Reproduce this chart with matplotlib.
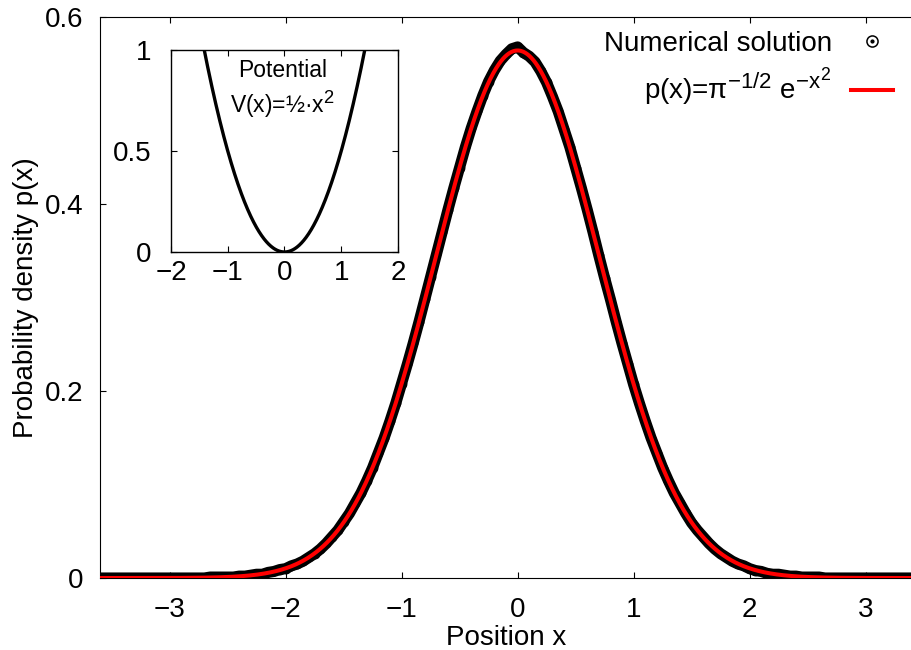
import numpy as np
import matplotlib
matplotlib.use("Agg")
import matplotlib.pyplot as plt
import matplotlib._mathtext as mathtext_internal
from matplotlib.lines import Line2D
from matplotlib.legend_handler import HandlerTuple

plt.rcParams['font.family'] = ['Liberation Sans', 'DejaVu Sans']
plt.rcParams['mathtext.fontset'] = 'custom'
plt.rcParams['mathtext.rm'] = 'Liberation Sans'
plt.rcParams['mathtext.it'] = 'Liberation Sans'
plt.rcParams['mathtext.bf'] = 'Liberation Sans:bold'
plt.rcParams['axes.unicode_minus'] = True
# slightly larger superscripts
mathtext_internal.SHRINK_FACTOR = 0.8

# Numerical solution sampled on a regular grid, dx = 0.05
x_num = np.linspace(-3.6, 3.6, 145)
p_num = [
    0.000, 0.000, 0.000, 0.000, 0.000, 0.000, 0.000, 0.000, 0.000, 0.000,  # -3.60 .. -3.15
    0.000, 0.000, 0.000, 0.000, 0.000, 0.000, 0.000, 0.000, 0.000, 0.001,  # -3.10 .. -2.65
    0.001, 0.001, 0.001, 0.001, 0.002, 0.002, 0.003, 0.004, 0.004, 0.006,  # -2.60 .. -2.15
    0.007, 0.009, 0.010, 0.013, 0.015, 0.018, 0.022, 0.026, 0.031, 0.037,  # -2.10 .. -1.65
    0.044, 0.051, 0.060, 0.069, 0.080, 0.091, 0.104, 0.118, 0.134, 0.150,  # -1.60 .. -1.15
    0.168, 0.187, 0.208, 0.229, 0.251, 0.274, 0.298, 0.322, 0.346, 0.370,  # -1.10 .. -0.65
    0.394, 0.417, 0.439, 0.461, 0.481, 0.499, 0.516, 0.531, 0.543, 0.553,  # -0.60 .. -0.15
    0.560, 0.566, 0.568, 0.562, 0.558, 0.552, 0.542, 0.530, 0.515, 0.499,  # -0.10 ..  0.35
    0.480, 0.461, 0.439, 0.417, 0.394, 0.370, 0.345, 0.321, 0.298, 0.274,  #  0.40 ..  0.85
    0.251, 0.229, 0.207, 0.187, 0.168, 0.150, 0.134, 0.118, 0.104, 0.091,  #  0.90 ..  1.35
    0.080, 0.069, 0.059, 0.051, 0.044, 0.037, 0.031, 0.026, 0.022, 0.018,  #  1.40 ..  1.85
    0.015, 0.013, 0.010, 0.008, 0.007, 0.005, 0.004, 0.004, 0.003, 0.002,  #  1.90 ..  2.35
    0.002, 0.001, 0.001, 0.001, 0.001, 0.000, 0.000, 0.000, 0.000, 0.000,  #  2.40 ..  2.85
    0.000, 0.000, 0.000, 0.000, 0.000, 0.000, 0.000, 0.000, 0.000, 0.000,  #  2.90 ..  3.35
    0.000, 0.000, 0.000, 0.000, 0.000,                                     #  3.40 ..  3.60
]

main_xlim = (-3.6, 3.4)
main_ylim = (0.0, 0.6)
main_xticks = [-3, -2, -1, 0, 1, 2, 3]
main_yticks = [0, 0.2, 0.4, 0.6]
main_yticklabels = ['0', '0.2', '0.4', '0.6']

inset_xlim = (-2, 2)
inset_ylim = (0, 1)
inset_xticks = [-2, -1, 0, 1, 2]
inset_yticks = [0, 0.5, 1]
inset_yticklabels = ['0', '0.5', '1']

W, H = 912, 650
fig = plt.figure(figsize=(W / 100, H / 100), dpi=100)

# main axes
ax = fig.add_axes([100 / W, 1 - 578 / H, (W - 100) / W, (578 - 17) / H])

# analytic ground state density p(x) = pi^-1/2 exp(-x^2)
x_an = np.linspace(-3.6, 3.6, 1201)
p_an = np.pi ** -0.5 * np.exp(-x_an ** 2)

ax.plot(x_num, p_num, color='black', lw=8, solid_capstyle='round',
        solid_joinstyle='round', zorder=2)
ax.plot(x_num, p_num, ls='none', marker='o', ms=6, mfc='none', mec='black',
        mew=1.0, zorder=3)
ax.plot(x_an, p_an, color='#ff0000', lw=2.9, zorder=4)

ax.set_xlim(*main_xlim)
ax.set_ylim(*main_ylim)
ax.set_xticks(main_xticks)
ax.set_yticks(main_yticks)
ax.set_yticklabels(main_yticklabels)
ax.spines['right'].set_visible(False)
for s in ('left', 'top', 'bottom'):
    ax.spines[s].set_linewidth(0.8)
ax.tick_params(axis='both', direction='in', length=4, width=0.8,
               labelsize=20, top=True, right=False)
ax.tick_params(axis='x', pad=14)
ax.tick_params(axis='y', pad=12)
ax.set_xlabel('Position x', fontsize=20, labelpad=1)
ax.set_ylabel('Probability density p(x)', fontsize=20, labelpad=4)

# legend (labels right-justified, sample on the right)
h_num = (Line2D([], [], ls='none', marker='o', ms=8, mfc='none', mec='black', mew=1.1),
         Line2D([], [], ls='none', marker='o', ms=2, mfc='black', mec='black'))
h_an = Line2D([], [], color='#ff0000', lw=2.9)
ax.legend([h_num, h_an],
          ['Numerical solution', r'p(x)=π$^{-1/2}$ e$^{-x^2}$'],
          handler_map={tuple: HandlerTuple(ndivide=1, pad=0)},
          loc='upper right', bbox_to_anchor=(893 / W, 1 - 31 / H),
          bbox_transform=fig.transFigure, frameon=False, fontsize=20,
          markerfirst=False, alignment='right', borderpad=0, borderaxespad=0,
          handlelength=1.5, handletextpad=0.7, labelspacing=0.3)

# inset: harmonic potential
axin = fig.add_axes([171 / W, 1 - 252 / H, 227 / W, 202 / H])
x_pot = np.linspace(-2, 2, 801)
v_pot = 0.5 * x_pot ** 2
axin.plot(x_pot, v_pot, color='black', lw=2.4)
axin.set_xlim(*inset_xlim)
axin.set_ylim(*inset_ylim)
axin.set_xticks(inset_xticks)
axin.set_yticks(inset_yticks)
axin.set_yticklabels(inset_yticklabels)
for s in axin.spines.values():
    s.set_linewidth(1.0)
axin.tick_params(axis='both', direction='in', length=4, width=0.8,
                 labelsize=20, top=True, right=True)
axin.tick_params(axis='x', pad=6)
axin.tick_params(axis='y', pad=14)
axin.text(0.49, 0.90, 'Potential', transform=axin.transAxes,
          ha='center', va='center', fontsize=16.5)
axin.text(0.49, 0.73, r'V(x)=½·x$^2$', transform=axin.transAxes,
          ha='center', va='center', fontsize=16.5)

fig.savefig('out.png', dpi=100)
